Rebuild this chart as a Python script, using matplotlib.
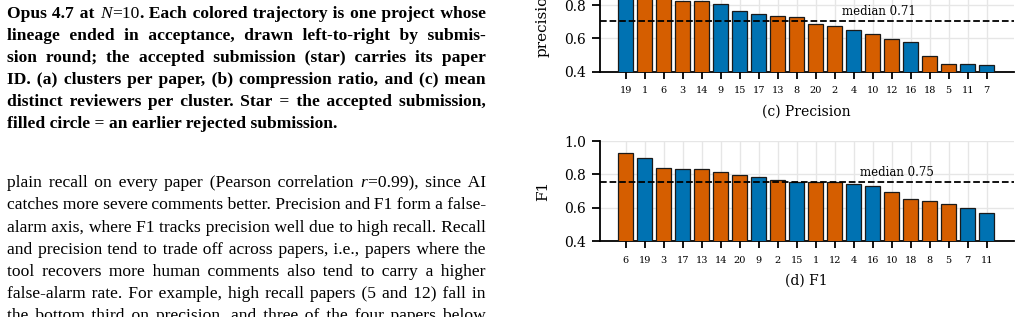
import matplotlib.pyplot as plt
import numpy as np

# Data: precision and F1 per paper (bars sorted high -> low)
prec_ids = ["19", "1", "6", "3", "14", "9", "15", "17", "13", "8",
            "20", "2", "4", "10", "12", "16", "18", "5", "11", "7"]
prec_vals = [0.90, 0.87, 0.84, 0.826, 0.822, 0.806, 0.764, 0.744, 0.734, 0.728,
             0.684, 0.674, 0.650, 0.628, 0.596, 0.576, 0.492, 0.448, 0.446, 0.440]

f1_ids = ["6", "19", "3", "17", "13", "14", "20", "9", "2", "15",
          "1", "12", "4", "16", "10", "18", "8", "5", "7", "11"]
f1_vals = [0.930, 0.901, 0.839, 0.835, 0.833, 0.815, 0.799, 0.783, 0.764, 0.755,
           0.754, 0.753, 0.742, 0.728, 0.692, 0.652, 0.642, 0.624, 0.599, 0.571]

# papers drawn in blue (the rest are orange)
blue_ids = ["19", "9", "15", "17", "4", "16", "11", "7"]

# Page text next to the figure ( _x_ = italic, ~x~ = regular weight)
caption_lines = [
    "Opus 4.7 at _N_~=10~. Each colored trajectory is one project whose",
    "lineage ended in acceptance, drawn left-to-right by submis-",
    "sion round; the accepted submission (star) carries its paper",
    "ID. (a) clusters per paper, (b) compression ratio, and (c) mean",
    "distinct reviewers per cluster. Star = the accepted submission,",
    "filled circle = an earlier rejected submission.",
]
body_lines = [
    "plain recall on every paper (Pearson correlation _r_=0.99), since AI",
    "catches more severe comments better. Precision and F1 form a false-",
    "alarm axis, where F1 tracks precision well due to high recall. Recall",
    "and precision tend to trade off across papers, i.e., papers where the",
    "tool recovers more human comments also tend to carry a higher",
    "false-alarm rate. For example, high recall papers (5 and 12) fall in",
    "the bottom third on precision, and three of the four papers below",
]

blue = "#0072B2"
orange = "#D55E00"

W, H = 1021, 317
fig = plt.figure(figsize=(W / 100, H / 100), dpi=100)
renderer = fig.canvas.get_renderer()

X0, X1 = 7.3, 486.0
TEXT_SIZE = 12.6
TEXT_FONT = ["Liberation Serif", "DejaVu Serif"]
SPACES = [" ", "\u2009", "\u200a"]


def make_text(x_px, y_px, s, style):
    return fig.text(x_px / W, 1 - y_px / H, s, fontsize=TEXT_SIZE,
                    family=TEXT_FONT, va="baseline", **style)


def width_of(s, style):
    t = make_text(0, 0, s, style)
    w = t.get_window_extent(renderer).width
    t.remove()
    return w


space_cache = {}


def space_widths(style):
    key = (style["fontweight"], style["fontstyle"])
    if key not in space_cache:
        base = width_of("aa", style)
        space_cache[key] = [width_of("a" + c + "a", style) - base for c in SPACES]
    return space_cache[key]


def gap_chars(need, style):
    # pick a mix of normal / thin / hair spaces close to the wanted gap
    ws = space_widths(style)
    best = None
    for a in range(4):
        for b in range(5):
            for c in range(5):
                if a + b + c == 0:
                    continue
                err = abs(a * ws[0] + b * ws[1] + c * ws[2] - need)
                if best is None or err < best[0]:
                    best = (err, " " * a + SPACES[1] * b + SPACES[2] * c)
    return best[1]


def split_word(word):
    # split a word into (text, italic, regular) pieces
    pieces = []
    italic = False
    regular = False
    buf = ""
    for ch in word:
        if ch in "_~":
            if buf:
                pieces.append((buf, italic, regular))
                buf = ""
            if ch == "_":
                italic = not italic
            else:
                regular = not regular
        else:
            buf += ch
    if buf:
        pieces.append((buf, italic, regular))
    return pieces


def write_line(line, baseline, bold=False, justify=True):
    def style_of(key):
        ital, reg = key
        return dict(fontweight="bold" if bold and not (ital or reg) else "normal",
                    fontstyle="italic" if ital else "normal")

    words = [split_word(w) for w in line.split(" ")]
    word_w = [sum(width_of(t, style_of((i, r))) for t, i, r in wd) for wd in words]
    gap = (X1 - X0 - sum(word_w)) / (len(words) - 1)

    runs = []
    cur_text, cur_key, cur_x = "", None, X0
    for j, wd in enumerate(words):
        pending = ""
        next_x = None
        if j > 0:
            end = cur_x + width_of(cur_text, style_of(cur_key))
            if justify:
                target = X0 + sum(word_w[:j]) + j * gap
                pending = gap_chars(target - end, style_of(cur_key))
            else:
                target = end + space_widths(style_of(cur_key))[0]
                pending = " "
            next_x = target
        for k, (t, i, r) in enumerate(wd):
            key = (i, r)
            if cur_key is None:
                cur_key = key
            if key != cur_key:
                end = cur_x + width_of(cur_text, style_of(cur_key))
                runs.append((cur_x, cur_text, cur_key))
                cur_x = next_x if (k == 0 and next_x is not None) else end + 0.5
                cur_text, cur_key = "", key
                pending = ""
            cur_text += pending + t
            pending = ""
    runs.append((cur_x, cur_text, cur_key))
    for x, s, key in runs:
        make_text(x, baseline, s, style_of(key))


for i, line in enumerate(caption_lines):
    write_line(line, 18.3 + 22 * i, bold=True, justify=(i < len(caption_lines) - 1))
for i, line in enumerate(body_lines):
    write_line(line, 187.3 + 22.17 * i)


def draw_panel(ax, ids, vals, ylabel, title, med_x):
    x = np.arange(len(ids))
    colors = [blue if p in blue_ids else orange for p in ids]
    ax.bar(x, vals, width=0.8, color=colors, edgecolor="#1a1a1a",
           linewidth=0.9, zorder=3)
    med = np.median(vals)
    ax.axhline(med, color="black", linestyle="--", linewidth=1.3, zorder=4)
    ax.text(med_x, med + 0.034, f"median {med:.2f}", ha="center",
            va="baseline", fontsize=8.5, family="DejaVu Serif")

    ax.set_xlim(-1.38, 20.44)
    ax.set_ylim(0.4, 1.0)
    ax.set_yticks([0.4, 0.6, 0.8, 1.0])
    ax.set_yticklabels(["0.4", "0.6", "0.8", "1.0"], family="DejaVu Serif")
    ax.set_xticks(x)
    ax.set_xticklabels(ids, family="DejaVu Serif")
    ax.tick_params(axis="y", length=5.5, width=1.3, labelsize=10, pad=4)
    ax.tick_params(axis="x", length=5, width=1.3, labelsize=7, pad=5.5)

    ax.set_ylabel(ylabel, fontsize=11, family="DejaVu Serif")
    ax.yaxis.set_label_coords(-0.12, 0.5)
    ax.text(0.5, -0.40, title, transform=ax.transAxes, ha="center",
            va="center", fontsize=10, family="DejaVu Serif")

    ax.grid(True, color="#e6e6e6", linewidth=1.0)
    ax.set_axisbelow(True)
    for s in ["top", "right"]:
        ax.spines[s].set_visible(False)
    for s in ["left", "bottom"]:
        ax.spines[s].set_linewidth(1.3)


# top panel runs past the top edge of the page crop
ax_top = fig.add_axes([0.5872, 0.7738, 0.406, 0.3155])
draw_panel(ax_top, prec_ids, prec_vals, "precision", "(c) Precision", 13.3)

ax_bot = fig.add_axes([0.5872, 0.2397, 0.406, 0.3155])
draw_panel(ax_bot, f1_ids, f1_vals, "F1", "(d) F1", 14.3)

fig.savefig("out.png", dpi=100)
